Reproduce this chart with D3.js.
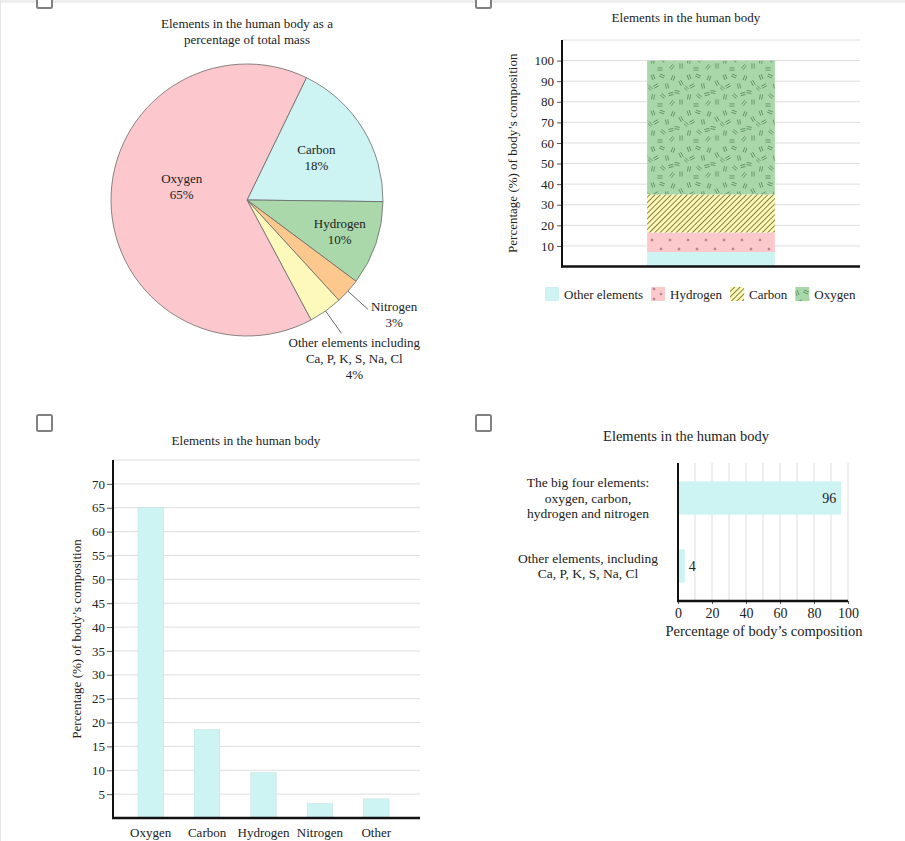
<!DOCTYPE html>
<html lang="en">
<head>
<meta charset="UTF-8">
<title>Elements in the human body</title>
<script src="https://d3js.org/d3.v7.min.js"></script>
<style>
  body { margin: 0; background: #fff; }
  svg { display: block; font-family: "Liberation Serif", "Times New Roman", serif; fill: #222; }
  .grid line { stroke: #dedede; stroke-width: 1; }
  .tick text { font-family: "Liberation Serif", serif; fill: #222; }
</style>
</head>
<body>
<svg id="chart" width="905" height="841"></svg>
<script>
// ---- data ----
const pieNames = ["Carbon", "Hydrogen", "Nitrogen", "Other", "Oxygen"];
const pieValues = [18, 10, 3, 4, 65];
const pieLabels = [["Carbon", "18%"], ["Hydrogen", "10%"], ["Nitrogen", "3%"],
  ["Other elements including", "Ca, P, K, S, Na, Cl", "4%"], ["Oxygen", "65%"]];

const stackNames = ["Other elements", "Hydrogen", "Carbon", "Oxygen"];
const stackValues = [7, 9.5, 18.5, 65];
const stackTicks = [10, 20, 30, 40, 50, 60, 70, 80, 90, 100];

const barNames = ["Oxygen", "Carbon", "Hydrogen", "Nitrogen", "Other"];
const barValues = [65, 18.5, 9.5, 3, 4];
const barTicks = [5, 10, 15, 20, 25, 30, 35, 40, 45, 50, 55, 60, 65, 70];

const hbarNames = [["The big four elements:", "oxygen, carbon,", "hydrogen and nitrogen"],
  ["Other elements, including", "Ca, P, K, S, Na, Cl"]];
const hbarValues = [96, 4];
const hbarTicks = [0, 20, 40, 60, 80, 100];

const cyan = "#cdf3f3";
const svg = d3.select("#chart");

// page frame and checkboxes
svg.append("rect").attr("width", 905).attr("height", 3).attr("fill", "#eeeeee");
svg.append("rect").attr("width", 1).attr("height", 841).attr("fill", "#e6e6e6");
[[37, -8], [476, -8], [37, 415], [476, 415]].forEach(p => {
  svg.append("rect").attr("x", p[0]).attr("y", p[1]).attr("width", 15).attr("height", 16)
    .attr("rx", 1.5).attr("fill", "#fff").attr("stroke", "#808080").attr("stroke-width", 2);
});

function multiLine(g, lines, x, y, lh, size, anchor) {
  const t = g.append("text").attr("x", x).attr("y", y).attr("font-size", size)
    .attr("text-anchor", anchor || "middle").attr("fill", "#222");
  lines.forEach((l, i) => t.append("tspan").attr("x", x).attr("dy", i ? lh : 0).text(l));
  return t;
}

// ---- patterns ----
const defs = svg.append("defs");
const pH = defs.append("pattern").attr("id", "pHyd").attr("patternUnits", "userSpaceOnUse")
  .attr("width", 18).attr("height", 18).attr("y", 2);
pH.append("rect").attr("width", 18).attr("height", 18).attr("fill", "#fbc8cc");
[[4, 4], [13, 13]].forEach(p => {
  pH.append("path").attr("d", `M${p[0] - 1.4},${p[1]}h2.8M${p[0]},${p[1] - 1.4}v2.8`)
    .attr("stroke", "#8a5560").attr("stroke-width", 0.7);
});
const pH2 = defs.append("pattern").attr("id", "pHydKey").attr("patternUnits", "userSpaceOnUse")
  .attr("width", 14).attr("height", 14).attr("x", 652).attr("y", 287);
pH2.append("rect").attr("width", 14).attr("height", 14).attr("fill", "#fbc8cc");
[[2, 2], [9, 7], [2, 12]].forEach(p => {
  pH2.append("path").attr("d", `M${p[0] - 1.3},${p[1]}h2.6M${p[0]},${p[1] - 1.3}v2.6`)
    .attr("stroke", "#8a5560").attr("stroke-width", 0.7);
});
const pC = defs.append("pattern").attr("id", "pCar").attr("patternUnits", "userSpaceOnUse")
  .attr("width", 3.8).attr("height", 3.8).attr("patternTransform", "rotate(45)");
pC.append("rect").attr("width", 3.8).attr("height", 3.8).attr("fill", "#fdf8b4");
pC.append("line").attr("x1", 0.5).attr("x2", 0.5).attr("y1", 0).attr("y2", 3.8)
  .attr("stroke", "#6e6c3c").attr("stroke-width", 0.85);
const pO = defs.append("pattern").attr("id", "pOxy").attr("patternUnits", "userSpaceOnUse")
  .attr("width", 36).attr("height", 36);
pO.append("rect").attr("width", 36).attr("height", 36).attr("fill", "#a9d7a9");
[[5, 5, 70], [14, 4, 20], [25, 6, 110], [33, 11, 60], [8, 14, 150], [19, 14, 80],
 [29, 20, 10], [5, 25, 100], [15, 24, 40], [24, 31, 130], [33, 30, 90], [12, 33, 0],
 [2, 16, 45], [23, 22, 165]]
  .forEach(m => {
    pO.append("path").attr("d", "M-2.6,-1.1h5.2M-2.6,1.1h5.2")
      .attr("transform", `translate(${m[0]},${m[1]}) rotate(${m[2]})`)
      .attr("stroke", "#578c5e").attr("stroke-width", 0.8);
  });
const stackFills = [cyan, "url(#pHyd)", "url(#pCar)", "url(#pOxy)"];
const keyFills = [cyan, "url(#pHydKey)", "url(#pCar)", "url(#pOxy)"];

function styleAxis(ax, size) {
  ax.attr("font-family", null);
  ax.select(".domain").remove();
  ax.selectAll(".tick line").attr("stroke", "#555");
  ax.selectAll(".tick text").attr("font-size", size);
}

// ---- pie chart ----
multiLine(svg, ["Elements in the human body as a", "percentage of total mass"], 247, 28, 16, 13);
const R = 136;
const pieG = svg.append("g").attr("transform", "translate(247,200)");
const pieColors = [cyan, "#aad8ab", "#fcc88d", "#fdf9ba", "#fdc8cd"];
const arcs = d3.pie().sort(null).value(d => d)
  .startAngle(0.452).endAngle(0.452 + 2 * Math.PI)(pieValues);
const arc = d3.arc().innerRadius(0).outerRadius(R);
pieG.selectAll("path.slice").data(arcs).join("path").attr("class", "slice")
  .attr("d", arc).attr("fill", (d, i) => pieColors[i])
  .attr("stroke", "#6a6a6a").attr("stroke-width", 0.8);

const labelR = [0.6, 0.72, 1.2, 1.2, 0.48];
const labelShift = [[0, 0], [0, 0], [26, -3], [13, 9], [0, -15]];
arcs.forEach((d, i) => {
  const c = d3.arc().innerRadius(R * labelR[i]).outerRadius(R * labelR[i]).centroid(d);
  const lines = pieLabels[i];
  if (labelR[i] > 1) {
    const e = d3.arc().innerRadius(R).outerRadius(R).centroid(d);
    pieG.append("line").attr("x1", e[0]).attr("y1", e[1]).attr("x2", c[0]).attr("y2", c[1])
      .attr("stroke", "#444").attr("stroke-width", 0.8);
    multiLine(pieG, lines, c[0] + labelShift[i][0], c[1] + labelShift[i][1] + 4.5, 16, 13);
  } else {
    const x = c[0] + labelShift[i][0], y = c[1] + labelShift[i][1];
    multiLine(pieG, lines, x, y - (lines.length - 1) * 8 + 4.5, 16, 13);
  }
});

// ---- stacked bar ----
{
  const x0 = 562, x1 = 860, yb = 266.5;
  svg.append("text").attr("x", 686).attr("y", 22).attr("text-anchor", "middle")
    .attr("font-size", 13).text("Elements in the human body");
  const y = d3.scaleLinear().domain([0, 110]).range([yb, 40]);
  const x = d3.scaleBand().domain(["all"]).range([x0, x1]).padding(0.4);
  svg.append("g").attr("class", "grid").selectAll("line").data([...stackTicks, 110]).join("line")
    .attr("x1", x0).attr("x2", x1).attr("y1", d => y(d)).attr("y2", d => y(d));
  const ax = svg.append("g").attr("transform", `translate(${x0},0)`)
    .call(d3.axisLeft(y).tickValues(stackTicks).tickSize(5).tickPadding(3));
  styleAxis(ax, 13);
  let acc = 0;
  const segs = stackValues.map(v => { const s = [acc, acc + v]; acc += v; return s; });
  svg.selectAll("rect.seg").data(segs).join("rect").attr("class", "seg")
    .attr("x", x("all")).attr("width", x.bandwidth())
    .attr("y", d => y(d[1])).attr("height", d => y(d[0]) - y(d[1]))
    .attr("fill", (d, i) => stackFills[i]);
  svg.append("line").attr("x1", x0).attr("x2", x0).attr("y1", 40).attr("y2", yb + 1)
    .attr("stroke", "#111").attr("stroke-width", 2);
  svg.append("line").attr("x1", x0 - 1).attr("x2", x1).attr("y1", yb).attr("y2", yb)
    .attr("stroke", "#111").attr("stroke-width", 2.5);
  svg.append("text").attr("transform", `translate(517,${(40 + yb) / 2}) rotate(-90)`)
    .attr("text-anchor", "middle").attr("font-size", 13)
    .text("Percentage (%) of body\u2019s composition");
  // legend
  let lx = 545;
  stackNames.forEach((n, i) => {
    svg.append("rect").attr("x", lx).attr("y", 287).attr("width", 14).attr("height", 14)
      .attr("fill", keyFills[i]);
    const t = svg.append("text").attr("x", lx + 19).attr("y", 299).attr("font-size", 13).text(n);
    lx += 19 + t.node().getComputedTextLength() + 8;
  });
}

// ---- vertical bar ----
{
  const x0 = 113, x1 = 420, yb = 818;
  svg.append("text").attr("x", 246).attr("y", 445).attr("text-anchor", "middle")
    .attr("font-size", 13).text("Elements in the human body");
  const y = d3.scaleLinear().domain([0, 75]).range([yb, 460]);
  const x = d3.scaleBand().domain(barNames).range([122.5, 404.5])
    .paddingInner(0.55).paddingOuter(0.275);
  svg.append("g").attr("class", "grid").selectAll("line").data([...barTicks, 75]).join("line")
    .attr("x1", x0).attr("x2", x1).attr("y1", d => y(d)).attr("y2", d => y(d));
  const ax = svg.append("g").attr("transform", `translate(${x0},0)`)
    .call(d3.axisLeft(y).tickValues(barTicks).tickSize(6).tickPadding(2));
  styleAxis(ax, 13);
  svg.selectAll("rect.bar").data(barValues).join("rect").attr("class", "bar")
    .attr("x", (d, i) => x(barNames[i])).attr("width", x.bandwidth())
    .attr("y", d => y(d)).attr("height", d => yb - y(d))
    .attr("fill", cyan).attr("stroke", "#bde5e5").attr("stroke-width", 0.6);
  svg.selectAll("text.xl").data(barNames).join("text").attr("class", "xl")
    .attr("x", d => x(d) + x.bandwidth() / 2).attr("y", 837).attr("text-anchor", "middle")
    .attr("font-size", 13).text(d => d);
  svg.append("line").attr("x1", x0).attr("x2", x0).attr("y1", 460).attr("y2", yb + 1)
    .attr("stroke", "#111").attr("stroke-width", 2);
  svg.append("line").attr("x1", x0 - 1).attr("x2", x1).attr("y1", yb).attr("y2", yb)
    .attr("stroke", "#111").attr("stroke-width", 2.5);
  svg.append("text").attr("transform", `translate(81,639) rotate(-90)`)
    .attr("text-anchor", "middle").attr("font-size", 13)
    .text("Percentage (%) of body\u2019s composition");
}

// ---- horizontal bar ----
{
  const x0 = 678, x1 = 848, y0 = 463, yb = 601;
  svg.append("text").attr("x", 686).attr("y", 441).attr("text-anchor", "middle")
    .attr("font-size", 14.5).text("Elements in the human body");
  const x = d3.scaleLinear().domain([0, 100]).range([x0, x1]);
  const y = d3.scaleBand().domain([0, 1]).range([y0, yb]).paddingInner(0.51).paddingOuter(0.27);
  svg.append("g").attr("class", "grid").selectAll("line").data(d3.range(10, 101, 10)).join("line")
    .attr("x1", d => x(d)).attr("x2", d => x(d)).attr("y1", y0).attr("y2", yb);
  svg.selectAll("rect.hbar").data(hbarValues).join("rect").attr("class", "hbar")
    .attr("x", x0).attr("y", (d, i) => y(i)).attr("height", y.bandwidth())
    .attr("width", d => x(d) - x0).attr("fill", cyan);
  hbarValues.forEach((v, i) => {
    const big = v > 50;
    svg.append("text").attr("x", big ? x(v) - 5 : x(v) + 4).attr("y", y(i) + y.bandwidth() / 2 + 5)
      .attr("text-anchor", big ? "end" : "start").attr("font-size", 14).text(v);
    const lines = hbarNames[i];
    multiLine(svg, lines, 588, y(i) + y.bandwidth() / 2 - (lines.length - 1) * 7.8 + 4.5, 15.6, 13.5);
  });
  const ax = svg.append("g").attr("transform", `translate(0,${yb})`)
    .call(d3.axisBottom(x).tickValues(hbarTicks).tickSize(3).tickPadding(4));
  styleAxis(ax, 14);
  svg.append("line").attr("x1", x0).attr("x2", x0).attr("y1", y0).attr("y2", yb + 1)
    .attr("stroke", "#111").attr("stroke-width", 2);
  svg.append("line").attr("x1", x0 - 1).attr("x2", x1).attr("y1", yb).attr("y2", yb)
    .attr("stroke", "#111").attr("stroke-width", 2.5);
  svg.append("text").attr("x", 764).attr("y", 636).attr("text-anchor", "middle")
    .attr("font-size", 14.5).text("Percentage of body\u2019s composition");
}
</script>
</body>
</html>
